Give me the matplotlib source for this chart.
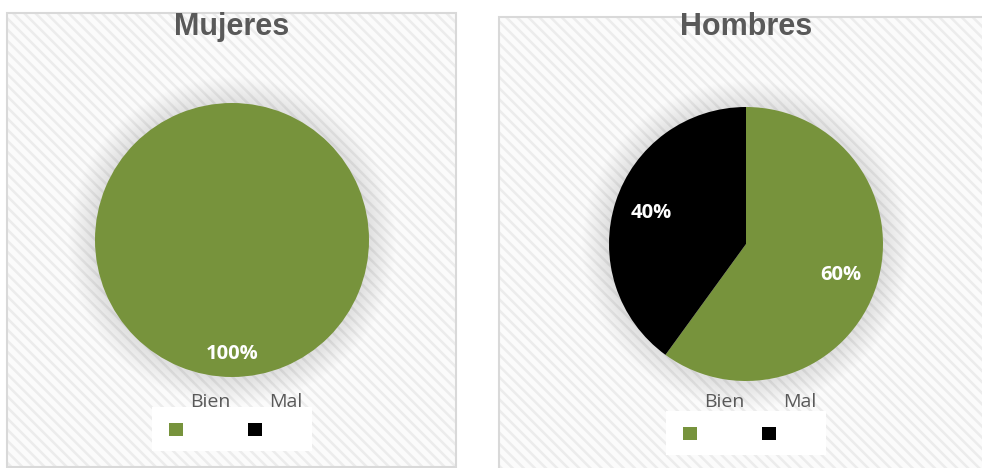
import matplotlib.pyplot as plt
from matplotlib.patches import Rectangle, Circle

# datos
categorias = ["Bien", "Mal"]
colores = ["#77933c", "#000000"]
titulos = ["Mujeres", "Hombres"]
mujeres = [100, 0]
hombres = [60, 40]

W, H = 982, 468
plt.rcParams['hatch.linewidth'] = 1.8

fig = plt.figure(figsize=(W / 100, H / 100), dpi=100)
ax = fig.add_axes([0, 0, 1, 1])

# paneles (en pixeles, y desde arriba)
paneles = [(7, 13, 449, 454), (499, 17, 495, 460)]
centros = [(232, 240), (746, 244)]
pct_dist = [0.83, 0.73]
radio = 137
gris = "#595959"


def py(y):
    return H - y


for (x0, y0, w, h), (cx, cy), titulo, valores, pd in zip(paneles, centros, titulos,
                                                          [mujeres, hombres], pct_dist):
    # fondo rayado
    ax.add_patch(Rectangle((x0, py(y0 + h)), w, h, facecolor="#fbfbfb",
                           edgecolor="#ececec", hatch="\\\\\\", linewidth=0, zorder=0))
    ax.add_patch(Rectangle((x0, py(y0 + h)), w, h, fill=False,
                           edgecolor="#d9d9d9", linewidth=1.5, zorder=1))
    # sombra suave
    for k in range(1, 28):
        ax.add_patch(Circle((cx, py(cy) - 1), radio + k, facecolor="black",
                            edgecolor="none", alpha=0.004, zorder=2))
    ax.pie(valores, colors=colores, startangle=90, counterclock=False,
           center=(cx, py(cy)), radius=radio, frame=True,
           autopct=lambda p: f"{p:.0f}%" if p > 0 else "",
           pctdistance=pd, wedgeprops=dict(linewidth=0, zorder=3),
           textprops=dict(color="white", fontweight="bold", family="Open Sans",
                          fontsize=14.5, zorder=4))
    ax.text(cx, py(35), titulo, ha="center", va="baseline", color=gris,
            fontsize=22, fontweight="bold", family="Liberation Sans", zorder=5)

    # leyenda
    ax.add_patch(Rectangle((cx - 80, py(cy + 167 + 44)), 160, 44, facecolor="white",
                           edgecolor="none", zorder=5))
    for i, (cat, col) in enumerate(zip(categorias, colores)):
        ax.add_patch(Rectangle((cx - 63 + 79 * i, py(cy + 196)), 14, 13,
                               facecolor=col, edgecolor="none", zorder=6))
        ax.text(cx - 22 + 76 * i, py(407), cat, ha="center", va="baseline",
                color=gris, fontsize=14, family="Open Sans", zorder=6)

ax.set_xlim(0, W)
ax.set_ylim(0, H)
ax.set_aspect("equal")
ax.axis("off")

fig.savefig("out.png", dpi=100)
